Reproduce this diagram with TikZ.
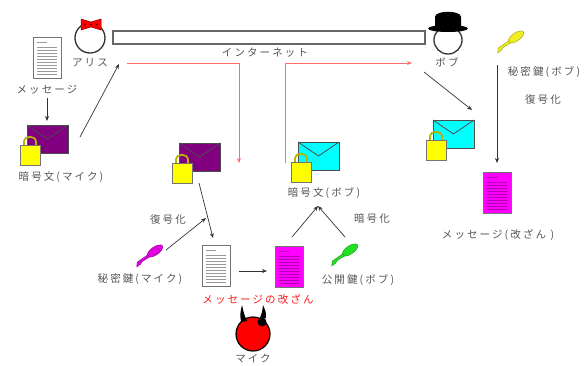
\documentclass[tikz,border=0pt]{standalone}
\usepackage{fontspec}
\setmainfont{Noto Sans CJK JP}
\usetikzlibrary{arrows.meta}

\definecolor{labelgray}{HTML}{555555}
\definecolor{linkred}{HTML}{FF6A6A}
\definecolor{lockrim}{HTML}{B4B400}
\definecolor{lockbody}{HTML}{FFFF00}
\definecolor{docline}{HTML}{B000B0}
\definecolor{fakepink}{HTML}{FF00FF}
\definecolor{mailcyan}{HTML}{00FFFF}
\definecolor{mailpurple}{HTML}{800080}
\definecolor{keypink}{HTML}{E000E0}
\definecolor{keygreen}{HTML}{22E022}
\definecolor{keyyellow}{HTML}{EEEE22}

\tikzset{
  lbl/.style={text=labelgray, inner sep=0pt,
    font=\fontsize{10.5}{12}\selectfont\addfontfeature{LetterSpace=20}},
  arr/.style={-{Stealth[length=5pt,width=4pt]}, draw=black!80, line width=0.7pt},
  redarr/.style={-{Stealth[length=5pt,width=4pt]}, draw=linkred, line width=0.9pt},
  % sheet of paper
  pics/doc/.style 2 args={code={
    \filldraw[fill=#1, draw=black!55, line width=0.8pt] (0,0) rectangle (28,41);
    \draw[#2, line width=0.6pt] (4,5) -- (14,5);
    \foreach \ly in {10,13,...,37}
      \draw[#2, line width=0.6pt] (4,\ly) -- (24,\ly);
  }},
  % sealed envelope with a padlock
  pics/letter/.style={code={
    \filldraw[fill=#1, draw=black!70, line width=0.8pt] (0,0) rectangle (41,28);
    \draw[black!70, line width=0.8pt] (0,0) -- (20.5,14) -- (41,0);
    \draw[lockrim, line width=1.8pt] (-3,20) -- (-3,17)
      .. controls (-3,10) and (9,10) .. (9,17) -- (9,20);
    \filldraw[fill=lockbody, draw=black!55, line width=0.6pt] (-7,20) rectangle (13,40);
  }},
  pics/key/.style={code={
    \filldraw[fill=#1, draw=#1!70!black, line width=0.5pt]
      (0,0) ellipse [x radius=9, y radius=4];
    \filldraw[fill=#1, draw=#1!70!black, line width=0.5pt]
      (-8,-1) -- (-21,-1) -- (-24,2.5) -- (-19,2.5) -- (-17,1.2) -- (-8,1.6) -- cycle;
  }},
}

\begin{document}
\begin{tikzpicture}[x=1pt, y=-1pt]

\useasboundingbox (0,0) rectangle (584,365);

\coordinate (docA) at (33,37);
\coordinate (envA) at (27,125);
\coordinate (envM) at (179,143);
\coordinate (envB) at (298,142);
\coordinate (envBob) at (433,120);
\coordinate (docM) at (202,245);
\coordinate (docF) at (275,246);
\coordinate (docBob) at (483,172);

% internet
\filldraw[fill=white, draw=black!60, line width=1.4pt] (113,31) rectangle (425,44);
\node[lbl] (net) at (265,53) {インターネット};

% alice
\filldraw[fill=white, draw=black!80, line width=1.3pt] (90,38) circle (15);
\filldraw[fill=red, draw=red!50!black, line width=0.5pt]
  (81,19) -- (91,22) -- (101,19) -- (101,30) -- (91,27) -- (81,30) -- cycle;
\foreach \bx in {85,91,97} \fill[red!45!black] (\bx,24.5) circle (1.1);
\node[lbl] (alice) at (90,63) {アリス};

% bob
\filldraw[fill=white, draw=black!80, line width=1.3pt] (448,40) circle (14);
\fill[black] (435,29) -- (435,17) .. controls (435,10) and (461,10) .. (461,17) -- (461,29) -- cycle;
\fill[black] (448,28.5) ellipse [x radius=20, y radius=3.5];
\node[lbl] (bob) at (447,62) {ボブ};

% mike
\filldraw[fill=red, draw=black, line width=1.2pt] (253,334) circle (17);
\fill[black] (241,322) .. controls (240,314) .. (242,305) .. controls (244,314) .. (247,321) -- cycle;
\fill[black] (259,320) .. controls (262,313) .. (263,305) .. controls (266,312) .. (266,318) -- cycle;
\fill[black] (262,322) circle (4.5);
\node[lbl] (mike) at (253,358) {マイク};

% documents
\pic at (docA) {doc={white}{black!40}};
\node[lbl] (msgA) at (47,90) {メッセージ};
\pic at (docM) {doc={white}{black!40}};
\pic at (docF) {doc={fakepink}{docline}};
\node[lbl, text=red!90] (fake) at (258,299) {メッセージの改ざん};
\pic at (docBob) {doc={fakepink}{docline}};
\node[lbl] (msgBob) at (498,235) {メッセージ(改ざん )};

% envelopes
\pic at (envA) {letter=mailpurple};
\node[lbl] (ctA) at (61,177) {暗号文(マイク)};
\pic at (envM) {letter=mailpurple};
\pic at (envB) {letter=mailcyan};
\node[lbl] (ctB) at (324,193) {暗号文(ボブ)};
\pic at (envBob) {letter=mailcyan};

% keys
\pic[rotate=35] at (155,251) {key=keypink};
\node[lbl] (skM) at (140,279) {秘密鍵(マイク)};
\pic[rotate=35] at (350,250) {key=keygreen};
\node[lbl] (pkB) at (358,280) {公開鍵(ボブ)};
\pic[rotate=35] at (516,37) {key=keyyellow};
\node[lbl] (skB) at (544,72) {秘密鍵(ボブ)};

\node[lbl] (decM) at (168,220) {復号化};
\node[lbl] (encB) at (372,219) {暗号化};
\node[lbl] (decB) at (543,100) {復号化};

% arrows
\coordinate (a1) at (47,98);
\coordinate (a2) at (47,121);
\coordinate (b1) at (80,137);
\coordinate (b2) at (119,64);
\coordinate (c1) at (199,183);
\coordinate (c2) at (213,238);
\coordinate (c3) at (166,250);
\coordinate (c4) at (206,218);
\coordinate (d1) at (239,271);
\coordinate (d2) at (267,271);
\coordinate (e1) at (292,237);
\coordinate (e2) at (318,206);
\coordinate (e3) at (345,237);
\coordinate (f1) at (424,72);
\coordinate (f2) at (472,110);
\coordinate (g1) at (497,65);
\coordinate (g2) at (497,163);

\draw[arr] (a1) -- (a2);
\draw[arr] (b1) -- (b2);
\draw[arr] (c1) -- (c2);
\draw[arr] (c3) -- (c4);
\draw[arr] (d1) -- (d2);
\draw[arr] (e1) -- (e2);
\draw[arr] (e3) -- (e2);
\draw[arr] (f1) -- (f2);
\draw[arr] (g1) -- (g2);

% traffic over the net
\coordinate (r1) at (127,63);
\coordinate (r2) at (239,63);
\coordinate (r3) at (239,163);
\coordinate (s1) at (285,163);
\coordinate (s2) at (285,63);
\coordinate (s3) at (412,63);

\draw[redarr] (r1) -- (r2) -- (r3);
\draw[redarr] (s1) -- (s2) -- (s3);

\end{tikzpicture}
\end{document}
